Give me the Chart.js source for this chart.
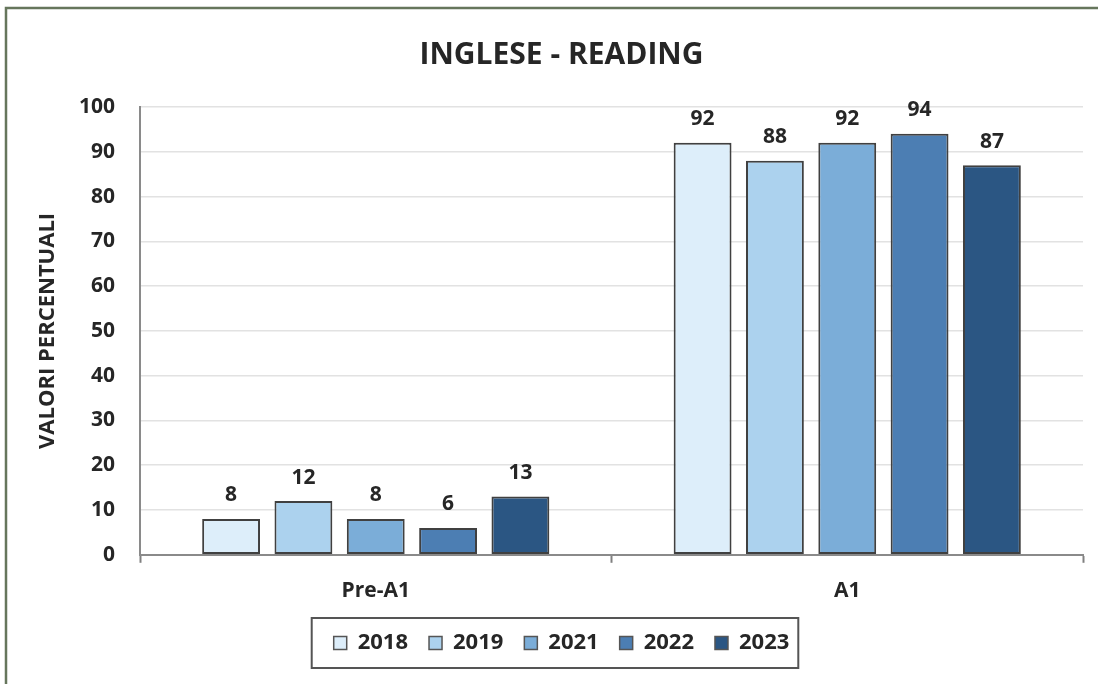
<!DOCTYPE html>
<html>
<head>
<meta charset="utf-8">
<script src="https://cdn.jsdelivr.net/npm/chart.js@4"></script>
<style>
html,body{margin:0;padding:0;background:#fff;}
#wrap{position:absolute;left:0;top:0;width:1098px;height:684px;}
</style>
</head>
<body>
<div id="wrap"><canvas id="c" width="1098" height="684"></canvas></div>
<script>
const categories = ["Pre-A1", "A1"];
const years = ["2018", "2019", "2021", "2022", "2023"];
const v2018 = [8, 92];
const v2019 = [12, 88];
const v2021 = [8, 92];
const v2022 = [6, 94];
const v2023 = [13, 87];
const yTicks = [0, 10, 20, 30, 40, 50, 60, 70, 80, 90, 100];
const titleText = "INGLESE - READING";
const yTitle = "VALORI PERCENTUALI";

const fills = ["#ddeefa", "#acd2ee", "#7badd8", "#4c7eb3", "#2b5683"];
const seriesValues = [v2018, v2019, v2021, v2022, v2023];
const FONT = "'Open Sans', 'DejaVu Sans', sans-serif";
const TXT = "#262626";

const frame = {
  id: 'frame',
  beforeDraw(chart) {
    const ctx = chart.ctx;
    ctx.save();
    ctx.fillStyle = '#fff';
    ctx.fillRect(0, 0, chart.width, chart.height);
    ctx.strokeStyle = '#66765c';
    ctx.lineWidth = 2.5;
    ctx.beginPath();
    ctx.moveTo(6, 684);
    ctx.lineTo(6, 8);
    ctx.lineTo(1098, 8);
    ctx.stroke();
    ctx.restore();
  }
};

const yTitlePlugin = {
  id: 'yTitleText',
  afterDraw(chart) {
    const a = chart.chartArea;
    const ctx = chart.ctx;
    ctx.save();
    ctx.translate(48, (a.top + a.bottom) / 2);
    ctx.rotate(-Math.PI / 2);
    ctx.font = "bold 22px " + FONT;
    ctx.fillStyle = TXT;
    ctx.textAlign = 'center';
    ctx.textBaseline = 'middle';
    ctx.fillText(yTitle, 0, 0);
    ctx.restore();
  }
};

const labelsPlugin = {
  id: 'valueLabels',
  afterDatasetsDraw(chart) {
    const ctx = chart.ctx;
    ctx.save();
    ctx.font = "bold 21px " + FONT;
    ctx.fillStyle = TXT;
    ctx.textAlign = 'center';
    ctx.textBaseline = 'bottom';
    chart.data.datasets.forEach((ds, i) => {
      const meta = chart.getDatasetMeta(i);
      meta.data.forEach((el, j) => {
        ctx.fillText(String(ds.data[j]), el.x, el.y - 13);
      });
    });
    ctx.restore();
  }
};

const legendBox = {
  id: 'legendBox',
  afterDraw(chart) {
    const lg = chart.legend;
    if (!lg || !lg.legendHitBoxes || !lg.legendHitBoxes.length) return;
    const hb = lg.legendHitBoxes;
    let l = Infinity, r = -Infinity, cy = 0;
    hb.forEach(h => { l = Math.min(l, h.left); r = Math.max(r, h.left + h.width); cy += h.top + h.height / 2; });
    cy /= hb.length;
    const ctx = chart.ctx;
    ctx.save();
    ctx.strokeStyle = '#555';
    ctx.lineWidth = 2;
    ctx.strokeRect(l - 22, cy - 25, (r - l) + 31, 50);
    ctx.restore();
  }
};

new Chart(document.getElementById('c'), {
  type: 'bar',
  data: {
    labels: categories,
    datasets: years.map((y, i) => ({
      label: y,
      data: seriesValues[i],
      backgroundColor: fills[i],
      borderColor: '#404040',
      borderWidth: 2,
      borderSkipped: false,
      barPercentage: 0.8,
      categoryPercentage: 0.767
    }))
  },
  options: {
    responsive: false,
    animation: false,
    devicePixelRatio: 1,
    layout: { padding: { left: 40, right: 15, top: 8, bottom: 20 } },
    plugins: {
      title: {
        display: true,
        text: titleText,
        color: TXT,
        font: { family: FONT, size: 30, weight: 'bold' },
        padding: { top: 29, bottom: 34 }
      },
      legend: {
        position: 'bottom',
        labels: {
          color: TXT,
          font: { family: FONT, size: 22, weight: 'bold' },
          boxWidth: 13,
          boxHeight: 13,
          padding: 21,
          generateLabels(chart) {
            return chart.data.datasets.map((ds, i) => ({
              text: ds.label,
              fillStyle: ds.backgroundColor,
              strokeStyle: '#555',
              lineWidth: 1.5,
              fontColor: TXT,
              datasetIndex: i,
              hidden: false
            }));
          }
        }
      },
      tooltip: { enabled: false }
    },
    scales: {
      x: {
        afterFit(scale) { scale.height = scale.height - 9; },
        grid: {
          offset: true,
          drawOnChartArea: false,
          drawTicks: true,
          tickLength: 8,
          tickColor: '#808080',
          tickWidth: 2
        },
        border: { color: '#8a8a8a', width: 2 },
        ticks: {
          color: TXT,
          font: { family: FONT, size: 21, weight: 'bold' },
          padding: 16
        }
      },
      y: {
        min: 0,
        max: 100,
        afterBuildTicks(scale) { scale.ticks = yTicks.map(v => ({ value: v })); },
        afterFit(scale) { scale.width = 100; },
        grid: { color: '#e2e2e2', lineWidth: 1.5, drawTicks: false },
        border: { color: '#8a8a8a', width: 2 },
        ticks: {
          color: TXT,
          font: { family: FONT, size: 21, weight: 'bold' },
          padding: 25
        }
      }
    }
  },
  plugins: [frame, labelsPlugin, legendBox, yTitlePlugin]
});
</script>
</body>
</html>
